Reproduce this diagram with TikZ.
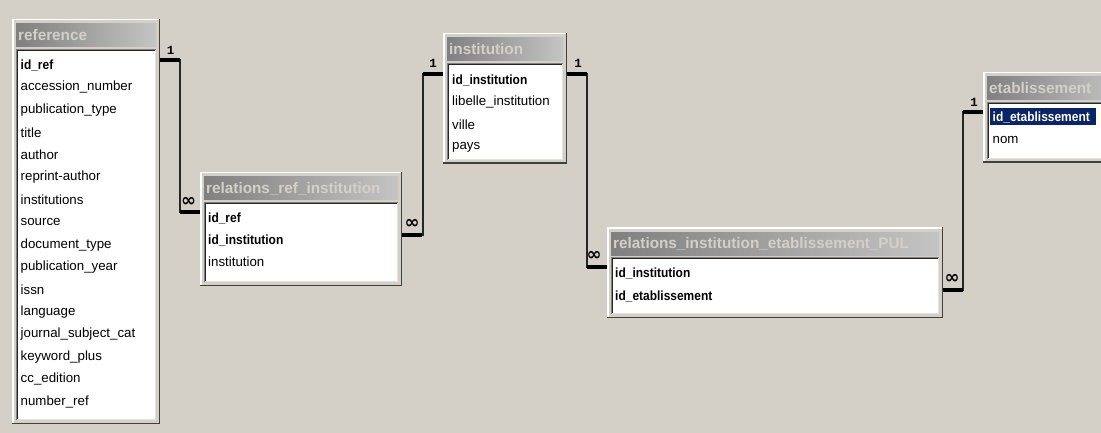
\documentclass[tikz,border=0pt]{standalone}
\usepackage{fontspec}
\setmainfont{Liberation Sans}
\newfontfamily\keyfont[FakeStretch=0.9]{Liberation Sans}
\newfontfamily\cardfont{Liberation Mono}
\newfontfamily\symfont{DejaVu Sans}
\usetikzlibrary{positioning}

\definecolor{winbg}{HTML}{D4D0C8}
\definecolor{bardark}{HTML}{808080}
\definecolor{barlight}{HTML}{C4C4C4}
\definecolor{seldark}{HTML}{0A246A}

% #1 name, #2 left, #3 top, #4 right, #5 bottom, #6 title
\newcommand{\tablebox}[6]{%
    \fill[winbg] (#2,#3) rectangle (#4,#5);
    \draw[white, line width=1.5pt] (#2+0.75,#5) -- (#2+0.75,#3+0.75) -- (#4,#3+0.75);
    \draw[black!75, line width=1.5pt] (#2,#5-0.75) -- (#4-0.75,#5-0.75) -- (#4-0.75,#3);
    \shade[left color=bardark, right color=barlight] (#2+4,#3+5) rectangle (#4-4,#3+28);
    \node[titletext] (#1) at (#2+6,#3+16.5) {#6};
    \fill[white] (#2+4,#3+30) rectangle (#4-4,#5-4);
    \draw[bardark] (#2+4.5,#5-4) -- (#2+4.5,#3+30.5) -- (#4-4,#3+30.5);
    \draw[black!85] (#2+5.5,#5-5) -- (#2+5.5,#3+31.5) -- (#4-5,#3+31.5);
    \draw[winbg!60!white] (#2+5,#5-4.5) -- (#4-4.5,#5-4.5) -- (#4-4.5,#3+31);
}

\begin{document}
\begin{tikzpicture}[x=1pt,y=-1pt,
    titletext/.style={anchor=west, inner sep=0pt, text=winbg, font=\fontsize{15.3}{16}\selectfont\bfseries},
    field/.style={anchor=west, inner sep=0pt, font=\fontsize{13.3}{15}\selectfont},
    keyfield/.style={field, font=\fontsize{13.3}{15}\selectfont\keyfont\bfseries},
    link/.style={draw=black!85, line width=1.5pt},
    stub/.style={draw=black, line width=4pt},
    onelabel/.style={inner sep=0pt, font=\fontsize{12.5}{12.5}\selectfont\cardfont\bfseries},
    manylabel/.style={inner sep=0pt, font=\fontsize{18}{18}\selectfont\symfont\bfseries}]

    \fill[winbg] (0,0) rectangle (1101,433);
    \clip (0,0) rectangle (1101,433);

    % tables
    \tablebox{ref}{12}{19}{160}{424}{reference}
    \tablebox{rri}{200}{172}{402}{286}{relations\_ref\_institution}
    \tablebox{inst}{443}{33}{567}{164}{institution}
    \tablebox{rie}{607}{227}{943}{318}{relations\_institution\_etablissement\_PUL}
    \tablebox{etab}{983}{72}{1125}{163}{etablissement}

    % fields
    \node[keyfield] (ref-0) at (20.5,65) {id\_ref};
    \foreach \f [count=\i] in {accession\_number,publication\_type,title,author,reprint-author,institutions,source,document\_type,publication\_year,issn,language,journal\_subject\_cat,keyword\_plus,cc\_edition,number\_ref}
        \node[field] (ref-\i) at (20.5,65+22.45*\i) {\f};

    \node[keyfield] (rri-1) at (208,218) {id\_ref};
    \node[keyfield] (rri-2) at (208,240) {id\_institution};
    \node[field] (rri-3) at (208,262) {institution};

    \node[keyfield] (inst-1) at (452,80) {id\_institution};
    \node[field] (inst-2) at (452,102) {libelle\_institution};
    \node[field] (inst-3) at (452,124.5) {ville};
    \node[field] (inst-4) at (452,147) {pays};

    \node[keyfield] (rie-1) at (615,273) {id\_institution};
    \node[keyfield] (rie-2) at (615,296) {id\_etablissement};

    \fill[seldark] (990,108) rectangle (1096,125.5);
    \node[keyfield, text=white] (etab-1) at (992.5,117) {id\_etablissement};
    \node[field] (etab-2) at (992.5,140) {nom};

    % relations
    \coordinate (ref-out) at (160,60);
    \coordinate (rri-in) at (200,212);
    \coordinate (inst-in) at (443,74);
    \coordinate (rri-out) at (402,235);
    \coordinate (inst-out) at (567,74);
    \coordinate (rie-in) at (607,267);
    \coordinate (etab-in) at (983,112);
    \coordinate (rie-out) at (943,290);

    \draw[link] (ref-out) -- ++(20,0) |- (rri-in);
    \draw[link] (inst-in) -- ++(-20,0) |- (rri-out);
    \draw[link] (inst-out) -- ++(20,0) |- (rie-in);
    \draw[link] (etab-in) -- ++(-20,0) |- (rie-out);

    \draw[stub] (ref-out) -- ++(20,0);
    \draw[stub] (rri-in) -- ++(-20,0);
    \draw[stub] (inst-in) -- ++(-20,0);
    \draw[stub] (rri-out) -- ++(20,0);
    \draw[stub] (inst-out) -- ++(20,0);
    \draw[stub] (rie-in) -- ++(-20,0);
    \draw[stub] (etab-in) -- ++(-20,0);
    \draw[stub] (rie-out) -- ++(20,0);

    \node[onelabel] (one-a) at (170.5,50) {1};
    \node[onelabel] (one-b) at (433,63) {1};
    \node[onelabel] (one-c) at (578,63) {1};
    \node[onelabel] (one-d) at (974,102) {1};
    \node[manylabel] (many-a) at (188.5,202) {∞};
    \node[manylabel] (many-b) at (412,224) {∞};
    \node[manylabel] (many-c) at (594,256) {∞};
    \node[manylabel] (many-d) at (952,279) {∞};
\end{tikzpicture}
\end{document}
